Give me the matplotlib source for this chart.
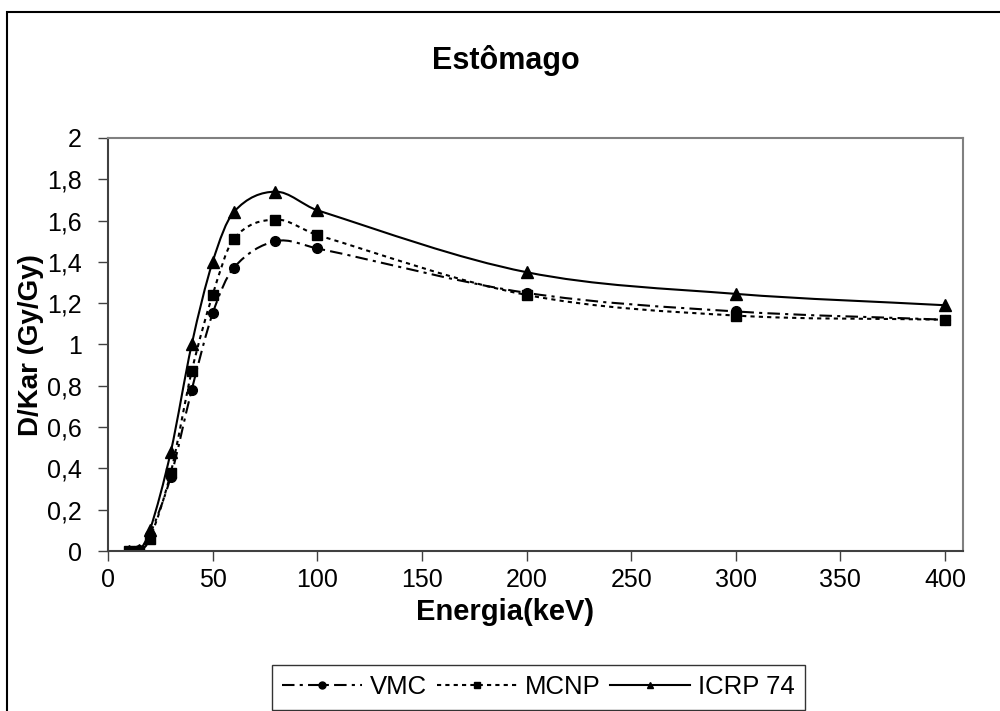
import numpy as np
import matplotlib
matplotlib.use("Agg")
import matplotlib.pyplot as plt
from matplotlib.path import Path
from matplotlib.patches import PathPatch, Rectangle
from matplotlib.lines import Line2D
from matplotlib.ticker import FuncFormatter

plt.rcParams['font.family'] = ['Liberation Sans', 'DejaVu Sans']

# Data
energia = [10, 15, 20, 30, 40, 50, 60, 80, 100, 200, 300, 400]
vmc = [0.0, 0.005, 0.08, 0.36, 0.78, 1.15, 1.37, 1.50, 1.465, 1.25, 1.16, 1.12]
mcnp = [0.0, 0.0, 0.06, 0.38, 0.87, 1.24, 1.51, 1.605, 1.53, 1.24, 1.14, 1.12]
icrp = [0.0, 0.005, 0.10, 0.48, 1.00, 1.40, 1.64, 1.74, 1.65, 1.35, 1.245, 1.19]


def smooth_path(x, y):
    # smoothed line like Excel: cubic Hermite segments drawn as Bezier curves
    x = np.asarray(x, float)
    y = np.asarray(y, float)
    n = len(x)
    m = np.zeros(n)
    m[0] = (y[1] - y[0]) / (x[1] - x[0])
    m[-1] = (y[-1] - y[-2]) / (x[-1] - x[-2])
    for i in range(1, n - 1):
        m[i] = (y[i + 1] - y[i - 1]) / (x[i + 1] - x[i - 1])
    verts = [(x[0], y[0])]
    codes = [Path.MOVETO]
    for i in range(n - 1):
        h = x[i + 1] - x[i]
        verts += [(x[i] + h / 3, y[i] + m[i] * h / 3),
                  (x[i + 1] - h / 3, y[i + 1] - m[i + 1] * h / 3),
                  (x[i + 1], y[i + 1])]
        codes += [Path.CURVE4] * 3
    return Path(verts, codes)


fig = plt.figure(figsize=(10, 7.11), dpi=100)
ax = fig.add_axes([0.108, 0.225, 0.855, 0.581])

series = [
    ("VMC", vmc, (0, (6, 2.5, 1.5, 2.5)), 'o', 7),
    ("MCNP", mcnp, (0, (2, 2)), 's', 7),
    ("ICRP 74", icrp, '-', '^', 9),
]

handles = []
for name, vals, ls, mk, ms in series:
    patch = PathPatch(smooth_path(energia, vals), facecolor='none',
                      edgecolor='black', linewidth=1.5, linestyle=ls)
    ax.add_patch(patch)
    ax.plot(energia, vals, linestyle='none', marker=mk, markersize=ms,
            color='black')
    handles.append(Line2D([], [], color='black', linewidth=1.5, linestyle=ls,
                          marker=mk, markersize=5))

ax.set_xlim(0, 408.6)
ax.set_ylim(0, 2)
ax.set_xticks(np.arange(0, 401, 50))
ax.set_yticks(np.arange(0, 2.01, 0.2))
ax.yaxis.set_major_formatter(FuncFormatter(
    lambda v, pos: ('%.1f' % v).rstrip('0').rstrip('.').replace('.', ',')))
ax.tick_params(labelsize=18, length=7, width=1, color='#404040')
ax.tick_params(axis='y', pad=12)
ax.tick_params(axis='x', pad=5)

for side in ['top', 'right']:
    ax.spines[side].set_color('#808080')
    ax.spines[side].set_linewidth(1.5)
for side in ['bottom', 'left']:
    ax.spines[side].set_color('#404040')
    ax.spines[side].set_linewidth(1.5)

fig.text(0.505, 1 - 612 / 711, "Energia(keV)", fontsize=21, fontweight='bold',
         ha='center', va='center')
fig.text(0.031, 1 - 345 / 711, "D/Kar (Gy/Gy)", fontsize=20,
         fontweight='bold', ha='center', va='center', rotation=90)
fig.text(0.506, 1 - 60 / 711, "Estômago", fontsize=22, fontweight='bold',
         ha='center', va='center')

leg = fig.legend(handles=handles, labels=[s[0] for s in series],
                 loc='upper left', bbox_to_anchor=(0.272, 1 - 665 / 711),
                 borderaxespad=0, ncol=3, fontsize=18.5, frameon=True,
                 fancybox=False, handlelength=3.1, handletextpad=0.3,
                 columnspacing=0.4, borderpad=0.4)
leg.get_frame().set_edgecolor('black')
leg.get_frame().set_linewidth(1)

# outer chart border (cut off at the right and bottom)
fig.patches.append(Rectangle((0.007, -0.1), 1.2, 1.1 - 12 / 711,
                             transform=fig.transFigure, fill=False,
                             edgecolor='black', linewidth=1.5))

fig.savefig("out.png", dpi=100)
